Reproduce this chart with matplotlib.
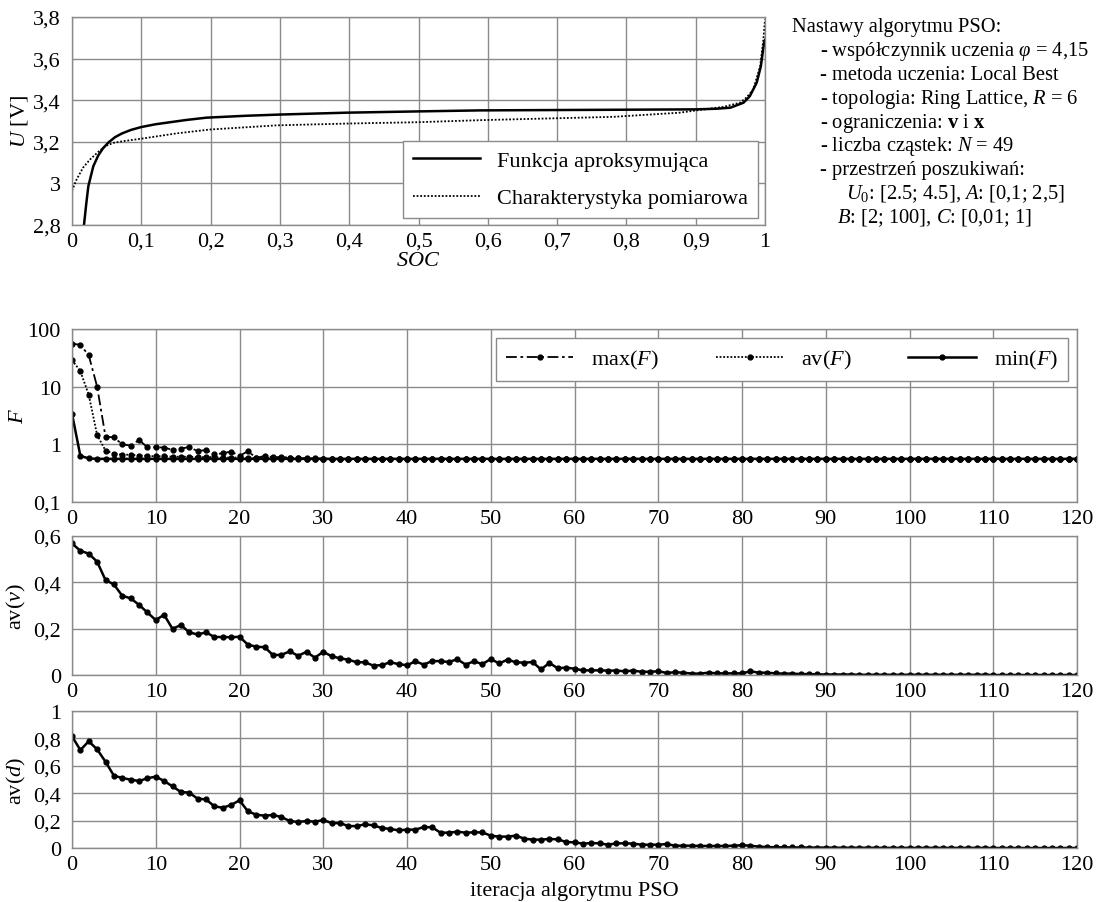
import matplotlib
matplotlib.use("Agg")
import matplotlib.pyplot as plt
from matplotlib.ticker import FixedLocator, FuncFormatter, NullLocator

# ---------------- data ----------------
# U(SOC): fitted approximation function
soc_fit = [0.0173, 0.0205, 0.0236, 0.0308, 0.038, 0.045, 0.053, 0.062, 0.072,
           0.085, 0.100, 0.120, 0.137, 0.165, 0.194, 0.25, 0.30, 0.396, 0.497,
           0.589, 0.781, 0.901, 0.93, 0.95, 0.969, 0.978, 0.988, 0.994, 0.9986, 1.0]
u_fit = [2.80, 2.90, 2.987, 3.083, 3.135, 3.170, 3.198, 3.222, 3.240,
         3.257, 3.271, 3.284, 3.292, 3.305, 3.316, 3.325, 3.331, 3.340, 3.346,
         3.351, 3.354, 3.356, 3.359, 3.364, 3.388, 3.419, 3.484, 3.563, 3.675, 3.69]

# U(SOC): measured characteristic
soc_meas = [0.0, 0.0068, 0.016, 0.026, 0.040, 0.050, 0.060, 0.074, 0.100, 0.15,
            0.199, 0.295, 0.401, 0.497, 0.589, 0.781, 0.877, 0.901, 0.94, 0.964,
            0.973, 0.983, 0.993, 0.9976, 1.0]
u_meas = [2.965, 3.02, 3.076, 3.115, 3.158, 3.182, 3.195, 3.203, 3.215, 3.24,
          3.259, 3.279, 3.288, 3.294, 3.304, 3.320, 3.34, 3.351, 3.368, 3.388,
          3.412, 3.451, 3.563, 3.69, 3.788]

iterations = list(range(121))

max_F = [56, 53, 35, 10, 1.36, 1.32, 1.0, 0.95, 1.19, 0.89,
         0.89, 0.88, 0.80, 0.84, 0.90, 0.76, 0.80, 0.67, 0.70, 0.75,
         0.63, 0.76, 0.58, 0.63, 0.60, 0.60, 0.59, 0.58, 0.57, 0.57,
         0.565, 0.56, 0.56, 0.56, 0.56, 0.56, 0.56, 0.56, 0.56, 0.56,
         0.56, 0.56, 0.56, 0.56, 0.56, 0.56, 0.56, 0.56, 0.56, 0.56,
         0.56, 0.56, 0.56, 0.56, 0.56, 0.56, 0.56, 0.56, 0.56, 0.56,
         0.56, 0.56, 0.56, 0.56, 0.56, 0.56, 0.56, 0.56, 0.56, 0.56,
         0.56, 0.56, 0.56, 0.56, 0.56, 0.56, 0.56, 0.56, 0.56, 0.56,
         0.56, 0.56, 0.56, 0.56, 0.56, 0.56, 0.56, 0.56, 0.56, 0.56,
         0.56, 0.56, 0.56, 0.56, 0.56, 0.56, 0.56, 0.56, 0.56, 0.56,
         0.56, 0.56, 0.56, 0.56, 0.56, 0.56, 0.56, 0.56, 0.56, 0.56,
         0.56, 0.56, 0.56, 0.56, 0.56, 0.56, 0.56, 0.56, 0.56, 0.56,
         0.56]

av_F = [29, 18.5, 7.2, 1.45, 0.78, 0.69, 0.66, 0.66, 0.64, 0.63,
        0.62, 0.62, 0.61, 0.61, 0.61, 0.60, 0.60, 0.60, 0.59, 0.59,
        0.59, 0.58, 0.58, 0.58, 0.57, 0.57, 0.57, 0.57, 0.565, 0.565,
        0.56, 0.56, 0.56, 0.56, 0.56, 0.56, 0.56, 0.56, 0.56, 0.56,
        0.56, 0.56, 0.56, 0.56, 0.56, 0.56, 0.56, 0.56, 0.56, 0.56,
        0.56, 0.56, 0.56, 0.56, 0.56, 0.56, 0.56, 0.56, 0.56, 0.56,
        0.56, 0.56, 0.56, 0.56, 0.56, 0.56, 0.56, 0.56, 0.56, 0.56,
        0.56, 0.56, 0.56, 0.56, 0.56, 0.56, 0.56, 0.56, 0.56, 0.56,
        0.56, 0.56, 0.56, 0.56, 0.56, 0.56, 0.56, 0.56, 0.56, 0.56,
        0.56, 0.56, 0.56, 0.56, 0.56, 0.56, 0.56, 0.56, 0.56, 0.56,
        0.56, 0.56, 0.56, 0.56, 0.56, 0.56, 0.56, 0.56, 0.56, 0.56,
        0.56, 0.56, 0.56, 0.56, 0.56, 0.56, 0.56, 0.56, 0.56, 0.56,
        0.56]

min_F = [3.4, 0.63, 0.57, 0.56, 0.56, 0.56, 0.56, 0.56, 0.56, 0.56,
         0.56, 0.56, 0.56, 0.56, 0.56, 0.56, 0.56, 0.56, 0.56, 0.56,
         0.56, 0.56, 0.56, 0.56, 0.56, 0.56, 0.56, 0.56, 0.56, 0.56,
         0.56, 0.56, 0.56, 0.56, 0.56, 0.56, 0.56, 0.56, 0.56, 0.56,
         0.56, 0.56, 0.56, 0.56, 0.56, 0.56, 0.56, 0.56, 0.56, 0.56,
         0.56, 0.56, 0.56, 0.56, 0.56, 0.56, 0.56, 0.56, 0.56, 0.56,
         0.56, 0.56, 0.56, 0.56, 0.56, 0.56, 0.56, 0.56, 0.56, 0.56,
         0.56, 0.56, 0.56, 0.56, 0.56, 0.56, 0.56, 0.56, 0.56, 0.56,
         0.56, 0.56, 0.56, 0.56, 0.56, 0.56, 0.56, 0.56, 0.56, 0.56,
         0.56, 0.56, 0.56, 0.56, 0.56, 0.56, 0.56, 0.56, 0.56, 0.56,
         0.56, 0.56, 0.56, 0.56, 0.56, 0.56, 0.56, 0.56, 0.56, 0.56,
         0.56, 0.56, 0.56, 0.56, 0.56, 0.56, 0.56, 0.56, 0.56, 0.56,
         0.56]

av_v = [0.568, 0.536, 0.524, 0.489, 0.410, 0.391, 0.342, 0.331, 0.303, 0.270,
        0.237, 0.260, 0.199, 0.216, 0.184, 0.175, 0.184, 0.164, 0.164, 0.163,
        0.165, 0.131, 0.122, 0.120, 0.086, 0.087, 0.102, 0.083, 0.100, 0.075,
        0.100, 0.081, 0.072, 0.066, 0.055, 0.055, 0.040, 0.043, 0.055, 0.047,
        0.042, 0.059, 0.045, 0.060, 0.060, 0.056, 0.068, 0.045, 0.059, 0.047,
        0.069, 0.050, 0.066, 0.055, 0.053, 0.056, 0.024, 0.052, 0.029, 0.032,
        0.027, 0.020, 0.020, 0.020, 0.019, 0.019, 0.016, 0.019, 0.014, 0.014,
        0.016, 0.009, 0.012, 0.010, 0.006, 0.006, 0.010, 0.007, 0.007, 0.007,
        0.007, 0.016, 0.010, 0.010, 0.007, 0.006, 0.006, 0.004, 0.004, 0.003,
        0.002, 0.002, 0.002, 0.002, 0.001, 0.001, 0.001, 0.001, 0.001, 0.001,
        0.001, 0.001, 0.001, 0.001, 0.001, 0.001, 0.001, 0.001, 0.001, 0.001,
        0.000, 0.000, 0.000, 0.000, 0.000, 0.000, 0.000, 0.000, 0.000, 0.000,
        0.000]

av_d = [0.815, 0.715, 0.779, 0.720, 0.630, 0.528, 0.511, 0.499, 0.489, 0.509,
        0.521, 0.489, 0.450, 0.409, 0.404, 0.360, 0.355, 0.304, 0.294, 0.314,
        0.348, 0.268, 0.243, 0.236, 0.241, 0.226, 0.197, 0.190, 0.197, 0.192,
        0.204, 0.182, 0.182, 0.160, 0.160, 0.173, 0.165, 0.146, 0.139, 0.129,
        0.134, 0.134, 0.153, 0.151, 0.112, 0.112, 0.119, 0.112, 0.114, 0.114,
        0.090, 0.083, 0.083, 0.090, 0.068, 0.061, 0.061, 0.066, 0.063, 0.044,
        0.041, 0.032, 0.036, 0.034, 0.024, 0.034, 0.034, 0.032, 0.024, 0.024,
        0.024, 0.029, 0.017, 0.017, 0.017, 0.015, 0.015, 0.015, 0.015, 0.017,
        0.020, 0.017, 0.010, 0.007, 0.005, 0.005, 0.004, 0.004, 0.003, 0.003,
        0.003, 0.002, 0.002, 0.002, 0.002, 0.002, 0.001, 0.001, 0.001, 0.001,
        0.001, 0.001, 0.001, 0.001, 0.001, 0.001, 0.001, 0.001, 0.001, 0.001,
        0.000, 0.000, 0.000, 0.000, 0.000, 0.000, 0.000, 0.000, 0.000, 0.000,
        0.000]

soc_ticks = [0, 0.1, 0.2, 0.3, 0.4, 0.5, 0.6, 0.7, 0.8, 0.9, 1.0]
u_ticks = [2.8, 3.0, 3.2, 3.4, 3.6, 3.8]
iter_ticks = list(range(0, 121, 10))
F_ticks = [0.1, 1, 10, 100]
v_ticks = [0, 0.2, 0.4, 0.6]
d_ticks = [0, 0.2, 0.4, 0.6, 0.8, 1.0]

settings_lines = [
    "Nastawy algorytmu PSO:",
    "- współczynnik uczenia $\\varphi$ = 4,15",
    "- metoda uczenia: Local Best",
    "- topologia: Ring Lattice, $R$ = 6",
    "- ograniczenia: $\\mathbf{v}$ i $\\mathbf{x}$",
    "- liczba cząstek: $N$ = 49",
    "- przestrzeń poszukiwań:",
    "$U_0$: [2.5; 4.5], $A$: [0,1; 2,5]",
    "$B$: [2; 100], $C$: [0,01; 1]",
]

# ---------------- style ----------------
plt.rcParams.update({
    "font.family": ["Liberation Serif", "DejaVu Serif"],
    "font.size": 16,
    "mathtext.fontset": "custom",
    "mathtext.rm": "Liberation Serif",
    "mathtext.it": "Liberation Serif:italic",
    "mathtext.bf": "Liberation Serif:bold",
})

W, H = 1099, 903
fig = plt.figure(figsize=(W / 100, H / 100), dpi=100)


def px_axes(left, top, right, bottom):
    return fig.add_axes([left / W, 1 - bottom / H, (right - left) / W, (bottom - top) / H])


def comma(v, _pos=None):
    s = f"{v:g}"
    return s.replace(".", ",")


GRID = "#8a8a8a"


def style(ax, xticks, yticks):
    ax.xaxis.set_major_locator(FixedLocator(xticks))
    ax.yaxis.set_major_locator(FixedLocator(yticks))
    ax.xaxis.set_minor_locator(NullLocator())
    ax.yaxis.set_minor_locator(NullLocator())
    ax.xaxis.set_major_formatter(FuncFormatter(comma))
    ax.yaxis.set_major_formatter(FuncFormatter(comma))
    ax.grid(True, color=GRID, lw=1.0)
    ax.set_axisbelow(True)
    for sp in ax.spines.values():
        sp.set_color(GRID)
        sp.set_linewidth(1.0)
    ax.tick_params(length=0, pad=5, labelsize=16, colors="black")
    ax.tick_params(axis="y", pad=8)


# ---------------- U(SOC) ----------------
ax0 = px_axes(72, 18, 765, 226)
ax0.plot(soc_fit, u_fit, color="black", lw=1.8, label="Funkcja aproksymująca")
ax0.plot(soc_meas, u_meas, color="black", lw=1.3, linestyle=(0, (1, 1)),
         label="Charakterystyka pomiarowa")
ax0.set_xlim(0, 1)
ax0.set_ylim(2.8, 3.8)
style(ax0, soc_ticks, u_ticks)
ax0.set_xlabel("$SOC$", fontsize=16, labelpad=0)
ax0.set_ylabel("$U$ [V]", fontsize=16)
ax0.yaxis.set_label_coords(-42 / 693, 0.5)
leg0 = ax0.legend(loc="lower right", fontsize=16, frameon=True, fancybox=False,
                  edgecolor=GRID, framealpha=1, handlelength=3.0,
                  borderaxespad=0.3, borderpad=0.45, labelspacing=0.75,
                  handletextpad=0.8)
leg0.get_frame().set_linewidth(1.0)

for i, line in enumerate(settings_lines):
    if i == 0:
        x = 792
    elif i == 7:
        x = 846
    elif i == 8:
        x = 837
    else:
        x = 820
    y = 32 + 23.9 * i
    fig.text(x / W, 1 - y / H, line, fontsize=14.8, va="baseline", ha="left")

# ---------------- F ----------------
ax1 = px_axes(72, 330, 1077, 503)
ax1.set_yscale("log")
mk = dict(marker="o", markersize=3.5, color="black")
ax1.plot(iterations, max_F, lw=1.3, linestyle=(0, (6, 2, 1.5, 2)), label="max($F$)", **mk)
ax1.plot(iterations, av_F, lw=1.3, linestyle=(0, (1, 1)), label="av($F$)", **mk)
ax1.plot(iterations, min_F, lw=1.8, linestyle="-", label="min($F$)", **mk)
ax1.set_xlim(0, 120)
ax1.set_ylim(0.1, 100)
style(ax1, iter_ticks, F_ticks)
ax1.set_ylabel("$F$", fontsize=16)
ax1.yaxis.set_label_coords(-44 / 1005, 0.5)
leg1 = ax1.legend(loc="upper right", ncol=3, fontsize=16, frameon=True, fancybox=False,
                  edgecolor=GRID, framealpha=1, handlelength=3.05, numpoints=1,
                  borderaxespad=0.4, borderpad=0.45, columnspacing=2.55,
                  handletextpad=0.8)
leg1.get_frame().set_linewidth(1.0)

# ---------------- av(v) ----------------
ax2 = px_axes(72, 537, 1077, 676)
ax2.plot(iterations, av_v, lw=1.8, **mk)
ax2.set_xlim(0, 120)
ax2.set_ylim(0, 0.6)
style(ax2, iter_ticks, v_ticks)
ax2.set_ylabel("av($v$)", fontsize=16)
ax2.yaxis.set_label_coords(-44 / 1005, 0.5)

# ---------------- av(d) ----------------
ax3 = px_axes(72, 712, 1077, 849)
ax3.plot(iterations, av_d, lw=1.8, **mk)
ax3.set_xlim(0, 120)
ax3.set_ylim(0, 1)
style(ax3, iter_ticks, d_ticks)
ax3.set_ylabel("av($d$)", fontsize=16)
ax3.yaxis.set_label_coords(-44 / 1005, 0.5)
ax3.set_xlabel("iteracja algorytmu PSO", fontsize=16, labelpad=5)

fig.savefig("out.png", dpi=100, facecolor="white")
